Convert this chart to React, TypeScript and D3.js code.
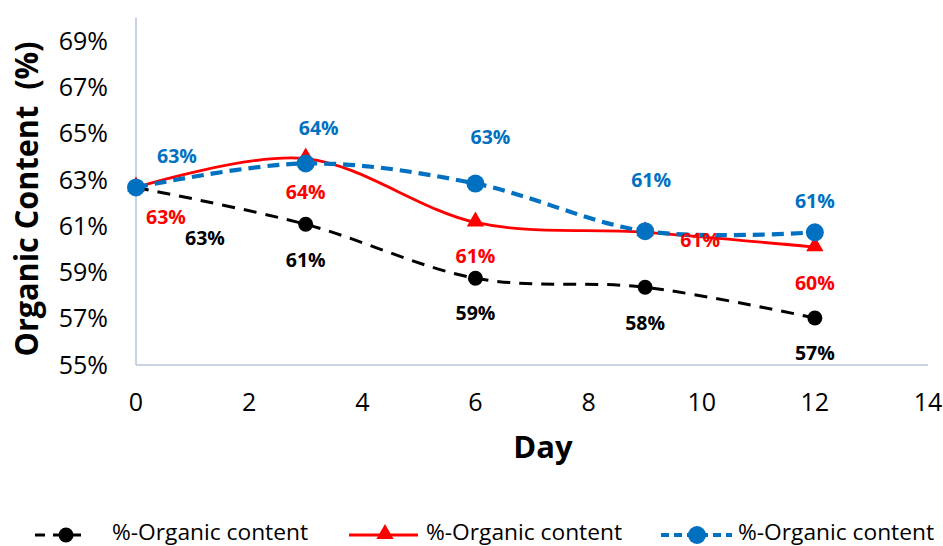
import React from "react";
import * as d3 from "d3";

const days = [0, 3, 6, 9, 12];
const seriesBlack = [62.67, 61.08, 58.75, 58.36, 57.03];
const seriesRed = [62.67, 63.92, 61.16, 60.73, 60.09];
const seriesBlue = [62.67, 63.71, 62.84, 60.78, 60.73];
const labelsBlack = ["63%", "61%", "59%", "58%", "57%"];
const labelsRed = ["63%", "64%", "61%", "61%", "60%"];
const labelsBlue = ["63%", "64%", "63%", "61%", "61%"];
const xTicks = [0, 2, 4, 6, 8, 10, 12, 14];
const yTicks = [55, 57, 59, 61, 63, 65, 67, 69];
const legendName = "%-Organic content";

// label offsets (layout, in px relative to the point)
const offBlack = [[69, 51], [0, 36], [0, 35], [0, 36], [0, 35]];
const offRed = [[30, 30], [0, 34], [0, 34], [55, 8], [0, 36]];
const offBlue = [[41, -31], [13, -35], [15, -46], [6, -51], [0, -31]];

const W = 943, H = 546;
const x = d3.scaleLinear().domain([0, 14]).range([136, 928]);
const y = d3.scaleLinear().domain([55, 70]).range([365, 17.8]);
const axisColor = "#b8c4d8";
const FONT = "'Open Sans', sans-serif";

function lineFor(vals: number[]) {
  return d3
    .line<number>()
    .x((_, i) => x(days[i]))
    .y((v) => y(v))
    .curve(d3.curveCardinal.tension(0))(vals) as string;
}

const tri = d3.symbol().type(d3.symbolTriangle).size(130)() as string;

export default function App() {
  const series = [
    { vals: seriesBlack, labels: labelsBlack, off: offBlack, color: "#000000", dash: "13 9", width: 3, marker: "circle", r: 7.5 },
    { vals: seriesRed, labels: labelsRed, off: offRed, color: "#ff0000", dash: "", width: 2.8, marker: "tri", r: 8 },
    { vals: seriesBlue, labels: labelsBlue, off: offBlue, color: "#0070c0", dash: "12 7", width: 4.2, marker: "circle", r: 9 },
  ];
  const legendX = [
    { l0: 35, l1: 88, m: 66, t: 112 },
    { l0: 349, l1: 418, m: 385, t: 426 },
    { l0: 661, l1: 732, m: 697, t: 738 },
  ];
  const LY = 535;
  return (
    <svg width={W} height={H} style={{ position: "absolute", left: 0, top: 0, background: "#fff" }} fontFamily={FONT}>
      <rect width={W} height={H} fill="#fff" />
      {/* axes */}
      <line x1={x(0)} x2={x(0)} y1={y(70)} y2={y(55)} stroke={axisColor} strokeWidth={1.5} />
      <line x1={x(0)} x2={x(14)} y1={y(55)} y2={y(55)} stroke={axisColor} strokeWidth={1.5} />
      {yTicks.map((t) => (
        <text key={t} x={108} y={y(t)} dy="0.35em" textAnchor="end" fontSize={25} fill="#000">
          {t}%
        </text>
      ))}
      {xTicks.map((t) => (
        <text key={t} x={x(t)} y={402} dy="0.35em" textAnchor="middle" fontSize={25} fill="#000">
          {t}
        </text>
      ))}
      <text x={543} y={458} textAnchor="middle" fontSize={31} fontWeight="bold" fill="#000">
        Day
      </text>
      <text
        transform={`translate(38,199) rotate(-90)`}
        textAnchor="middle"
        fontSize={32}
        fontWeight="bold"
        fill="#000"
        textLength={315}
        lengthAdjust="spacingAndGlyphs"
        style={{ whiteSpace: "pre" }}
      >
        {"Organic Content\u00A0 (%)"}
      </text>
      {/* series */}
      {series.map((s, si) => (
        <g key={si}>
          <path d={lineFor(s.vals)} fill="none" stroke={s.color} strokeWidth={s.width} strokeDasharray={s.dash} />
          {s.vals.map((v, i) =>
            s.marker === "circle" ? (
              <circle key={i} cx={x(days[i])} cy={y(v)} r={s.r} fill={s.color} />
            ) : (
              <path key={i} d={tri} transform={`translate(${x(days[i])},${y(v) - 1})`} fill={s.color} />
            )
          )}
        </g>
      ))}
      {series.map((s, si) => (
        <g key={"l" + si}>
          {s.vals.map((v, i) => (
            <text
              key={i}
              x={x(days[i]) + s.off[i][0]}
              y={y(v) + s.off[i][1]}
              dy="0.35em"
              textAnchor="middle"
              fontSize={19.5}
              fontWeight="bold"
              fill={s.color}
            >
              {s.labels[i]}
            </text>
          ))}
        </g>
      ))}
      {/* legend */}
      {series.map((s, si) => {
        const L = legendX[si];
        return (
          <g key={"lg" + si}>
            <line x1={L.l0} x2={L.l1} y1={LY} y2={LY} stroke={s.color} strokeWidth={s.width} strokeDasharray={si === 0 ? "10 8" : si === 2 ? "8 5" : ""} />
            {s.marker === "circle" ? (
              <circle cx={L.m} cy={LY} r={s.r} fill={s.color} />
            ) : (
              <path d={tri} transform={`translate(${L.m},${LY - 1})`} fill={s.color} />
            )}
            <text x={L.t} y={540} fontSize={21} fill="#000" textLength={196} lengthAdjust="spacingAndGlyphs">
              {legendName}
            </text>
          </g>
        );
      })}
    </svg>
  );
}
